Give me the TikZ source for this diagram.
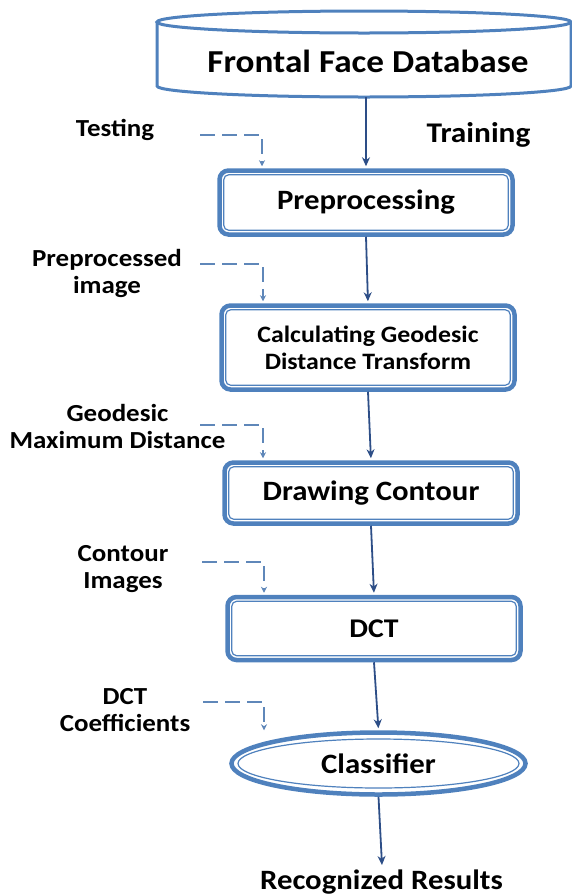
\documentclass[tikz,border=0pt]{standalone}
\usepackage{fontspec}
\setmainfont{Carlito}[FakeStretch=1.1]
\usetikzlibrary{arrows.meta,calc,shapes.geometric}
\definecolor{boxblue}{RGB}{79,129,189}
\definecolor{arrblue}{RGB}{45,78,135}
\definecolor{dashblue}{RGB}{95,135,185}
\tikzset{
  procbox/.style={draw=boxblue,line width=4.5pt,fill=white,rounded corners=9pt,
    minimum width=293pt,inner sep=0pt,font=\bfseries\fontsize{28}{30}\selectfont,align=center},
  innerline/.style={draw=boxblue,line width=1.2pt,rounded corners=5pt},
  lbl/.style={font=\bfseries\fontsize{24.5}{26.5}\selectfont,align=center,inner sep=0pt},
  arr/.style={draw=arrblue,line width=1.8pt,-{Stealth[length=9pt,width=8pt]},shorten >=2pt},
  darr/.style={draw=dashblue,line width=1.8pt,dash pattern=on 15pt off 7pt,-{Stealth[length=6pt,width=6pt]}},
}
\begin{document}
\begin{tikzpicture}[x=1pt,y=-1pt]
\useasboundingbox (0,0) rectangle (571,895);
% database cylinder
\fill[white] (157,22) -- (157,86) arc[start angle=180,end angle=0,x radius=207,y radius=11] -- (571,22) -- cycle;
\draw[boxblue,line width=3pt] (157,22) -- (157,86) arc[start angle=180,end angle=0,x radius=207,y radius=11] -- (571,22);
\draw[boxblue,line width=3pt] (364,22) ellipse[x radius=207,y radius=11];
\node[anchor=base,inner sep=0pt,font=\bfseries\fontsize{32}{34}\selectfont] (db) at (368,72) {Frontal Face Database};
\coordinate (dbbot) at (366,97);

% process boxes
\node[procbox,minimum height=64pt] (p1) at (366,202.5) {Preprocessing};
\node[procbox,minimum height=84pt,font=\bfseries\fontsize{23.5}{27}\selectfont] (p2) at (368,347.5) {Calculating Geodesic\\Distance Transform};
\node[procbox,minimum height=61pt] (p3) at (371,493) {Drawing Contour};
\node[procbox,minimum height=63pt,font=\bfseries\fontsize{27}{29}\selectfont] (p4) at (374,628.5) {DCT};
\node[ellipse,draw=boxblue,line width=4.5pt,fill=white,inner sep=0pt,minimum width=294pt,minimum height=62pt,
  font=\bfseries\fontsize{28}{30}\selectfont] (cl) at (378.5,763.5) {Classifier};
\draw[innerline] ($(p1.north west)+(6.5,6.5)$) rectangle ($(p1.south east)+(-6.5,-6.5)$);
\draw[innerline] ($(p2.north west)+(6.5,6.5)$) rectangle ($(p2.south east)+(-6.5,-6.5)$);
\draw[innerline] ($(p3.north west)+(6.5,6.5)$) rectangle ($(p3.south east)+(-6.5,-6.5)$);
\draw[innerline] ($(p4.north west)+(6.5,6.5)$) rectangle ($(p4.south east)+(-6.5,-6.5)$);
\draw[boxblue,line width=1.2pt] (cl.center) ellipse[x radius=140.5,y radius=24.5];

% results
\node[anchor=base,inner sep=0pt,font=\bfseries\fontsize{28}{30}\selectfont] (res) at (381.5,889) {Recognized Results};

% labels
\node[lbl,anchor=base] (tr) at (478.5,142) {\fontsize{28.5}{30}\selectfont Training};
\node[lbl,anchor=base] (l1) at (115,136) {Testing};
\node[lbl,anchor=base] (l2) at (107,293) {Preprocessed\\image};
\node[lbl,anchor=base] (l3) at (117.5,448) {Geodesic\\Maximum Distance};
\node[lbl,anchor=base] (l4) at (123,588) {Contour\\Images};
\node[lbl,anchor=base] (l5) at (125,731) {DCT\\Coefficients};

% solid arrows
\draw[arr] (dbbot) -- (p1.north);
\draw[arr] (p1.south) -- (p2.north);
\draw[arr] (p2.south) -- (p3.north);
\draw[arr] (p3.south) -- (p4.north);
\draw[arr] (p4.south) -- (cl.north);
\coordinate (resTop) at (382,865);
\draw[arr,shorten >=0pt] (cl.south) -- (resTop);

% dashed arrows
\coordinate (ds1) at (200,135);  \coordinate (dc1) at (262,135);
\coordinate (ds2) at (200,264);  \coordinate (dc2) at (263,264);
\coordinate (ds3) at (200,425);  \coordinate (dc3) at (263,425);
\coordinate (ds4) at (202,562);  \coordinate (dc4) at (264,562);
\coordinate (ds5) at (203,702);  \coordinate (dc5) at (264,702);
\draw[darr,shorten >=2pt] (ds1) -- (dc1) -- (p1.north -| dc1);
\draw[darr,shorten >=2pt] (ds2) -- (dc2) -- (p2.north -| dc2);
\draw[darr,shorten >=2pt] (ds3) -- (dc3) -- (p3.north -| dc3);
\draw[darr,shorten >=2pt] (ds4) -- (dc4) -- (p4.north -| dc4);
\draw[darr] (ds5) -- (dc5) -- (cl.north -| dc5);
\end{tikzpicture}
\end{document}
